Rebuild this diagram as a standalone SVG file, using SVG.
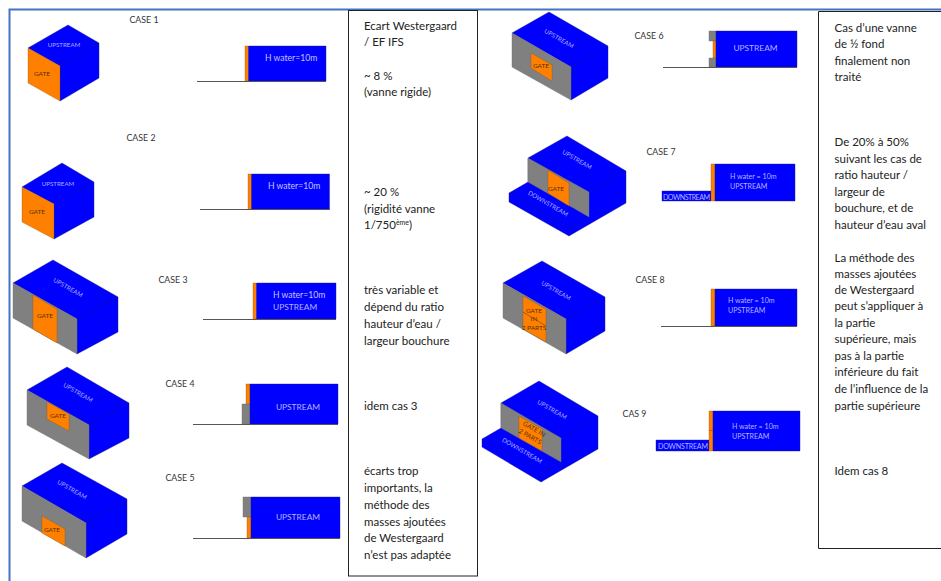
<svg xmlns="http://www.w3.org/2000/svg" width="941" height="581" viewBox="0 0 941 581">
<style>
text{font-family:"Lato","Liberation Sans",sans-serif}
.w{fill:#0000ff;stroke:#1a1a80;stroke-width:.4;stroke-linejoin:round}
.o{fill:#ff8000;stroke:#7a4a14;stroke-width:.3}
.g{fill:#808080;stroke:#707070;stroke-width:.4}
.b{fill:none;stroke:#222;stroke-width:1}
.gr{stroke:#555;stroke-width:1.2;fill:none}
.t{font-size:11.5px;fill:#222}
.c{font-size:8.8px;fill:#333;text-anchor:middle}
.u{font-size:6.2px;fill:#a9acff;text-anchor:middle}
.l{font-size:8.6px;fill:#c4c6ff}
.s{font-size:8.4px;fill:#b4b6ff}
.s2{font-size:7.1px;fill:#b4b6ff}
.m{text-anchor:middle}
.n{font-size:6.5px;fill:#5a3208;text-anchor:middle}
</style>
<path d="M9.500 581V9.500H941" fill="none" stroke="#4472c4" stroke-width="2"/>

<g id="case1">
<polygon class="w" points="68,25 99,43 99,78 60,101 60,66 28,48"/><path class="w" d="M60 66L99 43" fill="none"/>
<polygon class="o" points="28,48 60,66 60,101 28,83"/>
<text class="u" x="64" y="46.500">UPSTREAM</text><text class="n" x="42" y="76">GATE</text>
<text class="c" x="144" y="23">CASE 1</text>
<rect class="o" x="245" y="46" width="3.500" height="35"/><rect class="w" x="248.500" y="46" width="77.500" height="35"/>
<path class="gr" d="M197 81.500H326"/><text class="l" x="265" y="61">H water=10m</text>
</g>

<g id="case2">
<polygon class="w" points="62,163 94,182 94,217 54,239 54,204 22,187"/><path class="w" d="M54 204L94 182" fill="none"/>
<polygon class="o" points="22,187 54,204 54,239 22,222"/>
<text class="u" x="58" y="185.500">UPSTREAM</text><text class="n" x="37" y="214">GATE</text>
<text class="c" x="141" y="141">CASE 2</text>
<rect class="o" x="248" y="174" width="3.500" height="35.500"/><rect class="w" x="251.500" y="174" width="78" height="35.500"/>
<path class="gr" d="M200 209.500H329.500"/><text class="l" x="268" y="189">H water=10m</text>
</g>

<g id="case3">
<polygon class="w" points="53,260 118,297 118,332 77,354 77,319 13,283"/><path class="w" d="M77 319L118 297" fill="none"/>
<polygon class="g" points="13,283 77,319 77,354 13,318"/>
<polygon class="o" points="33,295 57,309 57,343 33,329"/>
<text class="u" transform="translate(67 289.500) rotate(30)">UPSTREAM</text><text class="n" x="45" y="317.500">GATE</text>
<text class="c" x="173" y="283">CASE 3</text>
<rect class="o" x="253" y="283" width="3.500" height="36"/><rect class="w" x="256.500" y="283" width="79.500" height="36"/>
<path class="gr" d="M203 319.500H336"/><text class="l" x="273" y="298">H water=10m</text><text class="s" x="273" y="310">UPSTREAM</text>
</g>

<g id="case4">
<polygon class="w" points="67,367 129,403 129,438 89,459 89,425 27,390"/><path class="w" d="M89 425L129 403" fill="none"/>
<polygon class="g" points="27,390 89,425 89,459 27,425"/>
<polygon class="o" points="47,402 69,414 69,431 47,419"/>
<text class="u" transform="translate(77 394.500) rotate(30)">UPSTREAM</text><text class="n" x="58" y="417.500">GATE</text>
<text class="c" x="180" y="387">CASE 4</text>
<rect class="o" x="246" y="384" width="4" height="20"/><rect class="g" x="242" y="404" width="8" height="20"/><rect class="w" x="250" y="384" width="88" height="40"/>
<path class="gr" d="M193 424.500H338"/><text class="s m" x="298" y="410">UPSTREAM</text>
</g>

<g id="case5">
<polygon class="w" points="62,463 127,499 127,534 86,558 86,523 22,486"/><path class="w" d="M86 523L127 499" fill="none"/>
<polygon class="g" points="22,486 86,523 86,558 22,521"/>
<polygon class="o" points="42,516 65,529 65,546 42,533"/>
<text class="u" transform="translate(71 491.500) rotate(30)">UPSTREAM</text><text class="n" x="52" y="531.500">GATE</text>
<text class="c" x="180" y="481">CASE 5</text>
<rect class="g" x="243" y="497" width="8" height="20"/><rect class="o" x="247" y="517" width="4" height="21"/><rect class="w" x="251" y="497" width="89" height="41"/>
<path class="gr" d="M193 538.500H340"/><text class="s m" x="298" y="520">UPSTREAM</text>
</g>

<g id="text-left">
<rect class="b" x="348.500" y="10.500" width="129" height="565.500"/>
<text class="t" x="364" y="30">Ecart Westergaard</text><text class="t" x="364" y="46">/ EF IFS</text>
<text class="t" x="364" y="80">~ 8 %</text><text class="t" x="364" y="96">(vanne rigide)</text>
<text class="t" x="364" y="196">~ 20 %</text><text class="t" x="364" y="213">(rigidité vanne</text><text class="t" x="364" y="229">1/750<tspan font-size="7" dy="-4">ème</tspan><tspan dy="4">)</tspan></text>
<text class="t" x="364" y="294">très variable et</text><text class="t" x="364" y="311">dépend du ratio</text><text class="t" x="364" y="328">hauteur d’eau /</text><text class="t" x="364" y="345">largeur bouchure</text>
<text class="t" x="364" y="410">idem cas 3</text>
<text class="t" x="364" y="475">écarts trop</text><text class="t" x="364" y="492">importants, la</text><text class="t" x="364" y="509">méthode des</text><text class="t" x="364" y="526">masses ajoutées</text><text class="t" x="364" y="542">de Westergaard</text><text class="t" x="364" y="559">n’est pas adaptée</text>
</g>

<g id="case6">
<polygon class="w" points="549,12 608,46 608,78 571,100 571,67 512,33"/><path class="w" d="M571 67L608 46" fill="none"/>
<polygon class="g" points="512,33 571,67 571,100 512,67"/>
<polygon class="o" points="531,53 552,65 552,81 531,68"/>
<text class="u" transform="translate(558 40.500) rotate(30)">UPSTREAM</text><text class="n" x="541" y="68">GATE</text>
<text class="c" x="649" y="39">CASE 6</text>
<rect class="g" x="709" y="31" width="7" height="10"/><rect class="o" x="713" y="41" width="3" height="17"/><rect class="g" x="709" y="58" width="7" height="9"/><rect class="w" x="716" y="31" width="81" height="36"/>
<path class="gr" d="M663 67.500H797"/><text class="s m" x="755.500" y="51">UPSTREAM</text>
</g>

<g id="case7">
<polygon class="w" points="567,136 626,171 626,203 569,236 509,202 509,193 528,182 528,158"/>
<path class="w" fill="none" d="M589 192L626 171M509 193L569 228L589 217M569 228V236"/>
<polygon class="g" points="528,158 589,192 589,217 528,182"/>
<polygon class="o" points="548,170 569,183 569,206 548,193"/>
<text class="u" transform="translate(576 161.500) rotate(30)">UPSTREAM</text><text class="u" transform="translate(547 205.500) rotate(30)">DOWNSTREAM</text><text class="n" x="556" y="190.500">GATE</text>
<text class="c" x="661" y="155">CASE 7</text>
<rect class="w" x="662" y="191" width="49" height="10"/><rect class="o" x="711" y="164" width="4" height="37"/><rect class="w" x="715" y="164" width="80" height="37"/>
<text class="s2" x="663" y="199.500" textLength="47">DOWNSTREAM</text><text class="s2" x="730" y="178.500">H water = 10m</text><text class="s2" x="730" y="188.500">UPSTREAM</text>
</g>

<g id="case8">
<polygon class="w" points="542,261 605,297 605,331 566,354 566,319 503,283"/><path class="w" d="M566 319L605 297" fill="none"/>
<polygon class="g" points="503,283 566,319 566,354 503,318"/>
<polygon class="o" points="523,296 546,309 546,342 523,329"/><path d="M523 312L546 326" stroke="#55391a" stroke-width=".5"/>
<text class="u" transform="translate(555 292.500) rotate(30)">UPSTREAM</text>
<text class="n" x="534" y="312.500">GATE</text><text class="n" x="534" y="321">IN</text><text class="n" x="534" y="329.500">2 PARTS</text>
<text class="c" x="650" y="283">CASE 8</text>
<rect class="o" x="711" y="289" width="4" height="37"/><rect class="w" x="715" y="289" width="82" height="37"/>
<path class="gr" d="M661 326.500H797"/><text class="s2" x="728" y="303">H water = 10m</text><text class="s2" x="728" y="313">UPSTREAM</text>
</g>

<g id="case9">
<polygon class="w" points="539,381 598,416 598,449 541,482 482,447 482,439 501,428 501,403"/>
<path class="w" fill="none" d="M561 438L598 416M482 439L542 473L561 462V470M542 473V482"/>
<polygon class="g" points="501,403 561,438 561,462 501,428"/>
<polygon class="o" points="519,416 542,429 542,451 519,438"/>
<text class="u" transform="translate(551 411.500) rotate(30)">UPSTREAM</text><text class="u" transform="translate(521 452.500) rotate(30)">DOWNSTREAM</text>
<text class="n" transform="translate(533 431) rotate(30)">GATE IN</text><text class="n" transform="translate(529 438.500) rotate(30)">2 PARTS</text>
<text class="c" x="634.500" y="417">CAS 9</text>
<rect class="w" x="656" y="440" width="53" height="11"/><rect class="o" x="709" y="411" width="4" height="40"/><path d="M709 430.500H713" stroke="#55391a" stroke-width=".4"/><rect class="w" x="713" y="411" width="87" height="40"/>
<text class="s2" x="658" y="448.500" textLength="50">DOWNSTREAM</text><text class="s2" x="732" y="428.500">H water = 10m</text><text class="s2" x="732" y="438.500">UPSTREAM</text>
</g>

<g id="text-right">
<path class="b" d="M941 11.500H818.500V548.500H941"/>
<text class="t" x="834.500" y="32">Cas d’une vanne</text><text class="t" x="834.500" y="48">de ½ fond</text><text class="t" x="834.500" y="65">finalement non</text><text class="t" x="834.500" y="81">traité</text>
<text class="t" x="834.500" y="146">De 20% à 50%</text><text class="t" x="834.500" y="163">suivant les cas de</text><text class="t" x="834.500" y="179">ratio hauteur /</text><text class="t" x="834.500" y="196">largeur de</text><text class="t" x="834.500" y="212">bouchure, et de</text><text class="t" x="834.500" y="229">hauteur d’eau aval</text>
<text class="t" x="834.500" y="262">La méthode des</text><text class="t" x="834.500" y="278">masses ajoutées</text><text class="t" x="834.500" y="294">de Westergaard</text><text class="t" x="834.500" y="310">peut s’appliquer à</text><text class="t" x="834.500" y="327">la partie</text><text class="t" x="834.500" y="343">supérieure, mais</text><text class="t" x="834.500" y="360">pas à la partie</text><text class="t" x="834.500" y="376">inférieure du fait</text><text class="t" x="834.500" y="393">de l’influence de la</text><text class="t" x="834.500" y="410">partie supérieure</text>
<text class="t" x="834.500" y="475">Idem cas 8</text>
</g>
</svg>
